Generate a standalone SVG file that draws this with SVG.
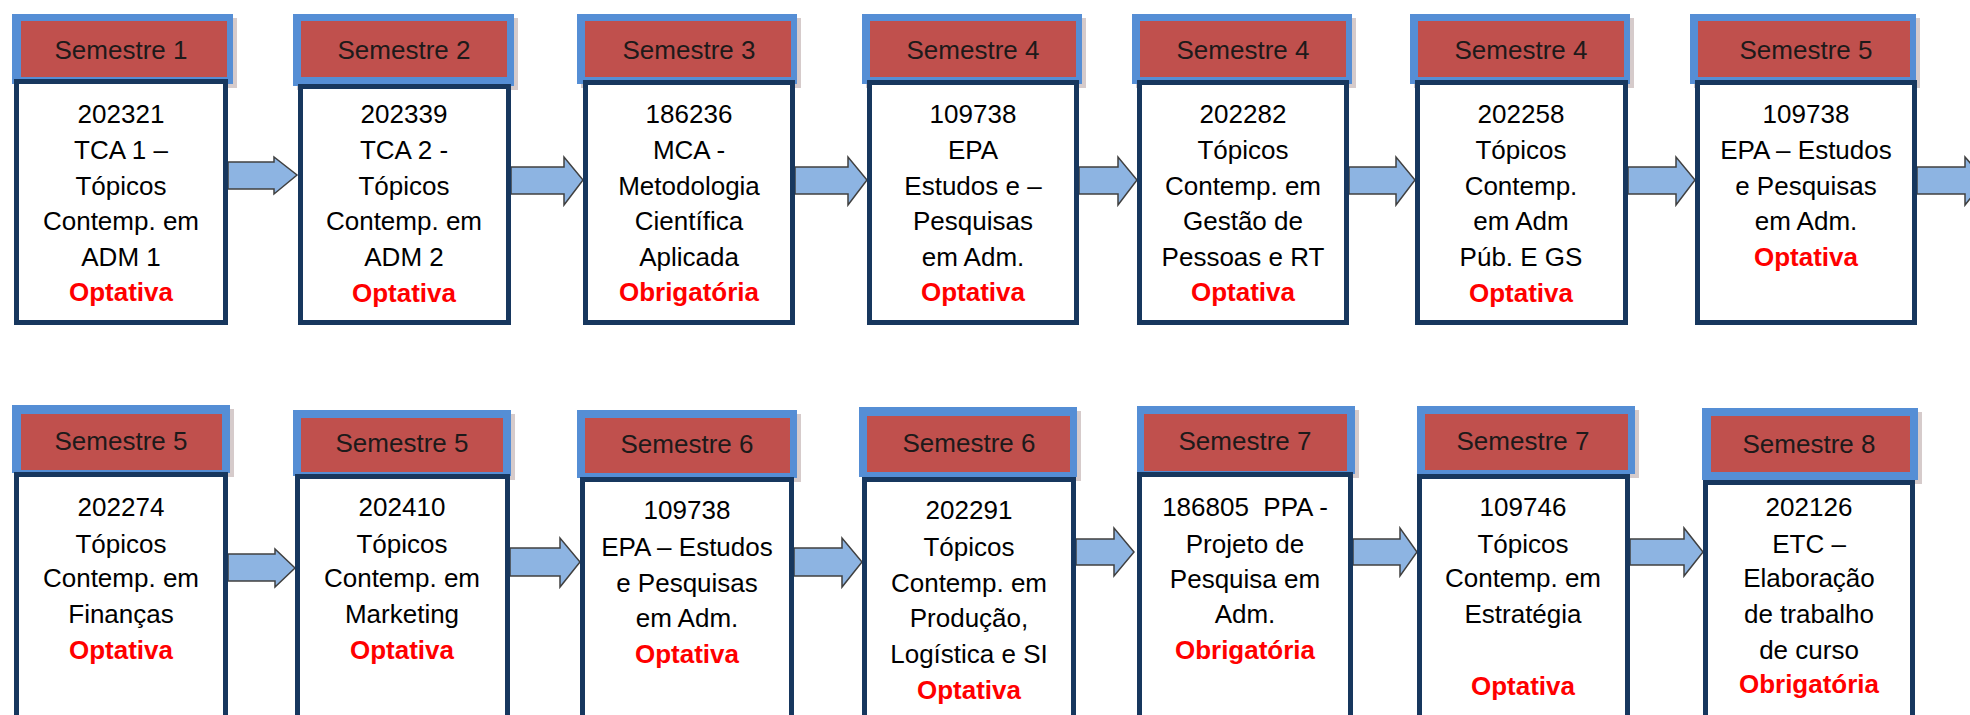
<svg xmlns="http://www.w3.org/2000/svg" width="1970" height="715" viewBox="0 0 1970 715">
<style>
.bg{fill:#ffffff}
.hs{fill:#8a6a6a;opacity:0.35}
.hb{fill:#558ED5}
.hr{fill:#C0504D}
.bd{fill:#ffffff;stroke:#17375E;stroke-width:5}
.ht{font-family:"Liberation Sans",Arial,sans-serif;font-size:26px;fill:#1e1a1a;text-anchor:middle}
.t{font-family:"Liberation Sans",Arial,sans-serif;font-size:26px;fill:#000;text-anchor:middle}
.r{font-family:"Liberation Sans",Arial,sans-serif;font-size:26px;font-weight:bold;fill:#FF0000;text-anchor:middle}
.ar{fill:#8DB4E2;stroke:#404040;stroke-width:1.5;stroke-linejoin:miter}
</style>
<rect class="bg" x="0" y="0" width="1970" height="715"/>

<g id="connectors">
  <polygon class="ar" points="228,162 274,162 274,157 297,175 274,194 274,189 228,189"/>
  <polygon class="ar" points="511,167 564,167 564,157 583,180 564,205 564,194 511,194"/>
  <polygon class="ar" points="795,167 848,167 848,157 867,180 848,205 848,194 795,194"/>
  <polygon class="ar" points="1079,167 1118,167 1118,157 1137,180 1118,205 1118,194 1079,194"/>
  <polygon class="ar" points="1349,167 1396,167 1396,157 1415,180 1396,205 1396,194 1349,194"/>
  <polygon class="ar" points="1628,167 1676,167 1676,157 1695,180 1676,205 1676,194 1628,194"/>
  <polygon class="ar" points="1917,167 1965,167 1965,157 1985,180 1965,205 1965,194 1917,194"/>
  <polygon class="ar" points="228,554 275,554 275,549 295,568 275,587 275,581 228,581"/>
  <polygon class="ar" points="510,548 560,548 560,538 580,562 560,587 560,576 510,576"/>
  <polygon class="ar" points="794,548 842,548 842,538 862,562 842,587 842,576 794,576"/>
  <polygon class="ar" points="1076,539 1114,539 1114,528 1134,552 1114,576 1114,565 1076,565"/>
  <polygon class="ar" points="1353,539 1400,539 1400,528 1417,552 1400,576 1400,565 1353,565"/>
  <polygon class="ar" points="1630,539 1684,539 1684,528 1703,552 1684,576 1684,565 1630,565"/>
</g>

<!-- Top row -->
<g id="node-t1">
  <rect class="hs" x="16" y="18" width="221" height="70"/>
  <rect class="hb" x="12" y="14" width="221" height="70"/>
  <rect class="hr" x="21" y="21" width="206" height="56"/>
  <rect class="bd" x="16.5" y="81.5" width="209" height="241"/>
  <text class="ht" x="121" y="59">Semestre 1</text>
  <text class="t" x="121" y="123">202321</text>
  <text class="t" x="121" y="159">TCA 1 –</text>
  <text class="t" x="121" y="195">Tópicos</text>
  <text class="t" x="121" y="230">Contemp. em</text>
  <text class="t" x="121" y="266">ADM 1</text>
  <text class="r" x="121" y="301">Optativa</text>
</g>
<g id="node-t2">
  <rect class="hs" x="297" y="18" width="221" height="72"/>
  <rect class="hb" x="293" y="14" width="221" height="72"/>
  <rect class="hr" x="301" y="21" width="206" height="56"/>
  <rect class="bd" x="300.5" y="86.5" width="208" height="236"/>
  <text class="ht" x="404" y="59">Semestre 2</text>
  <text class="t" x="404" y="123">202339</text>
  <text class="t" x="404" y="159">TCA 2 -</text>
  <text class="t" x="404" y="195">Tópicos</text>
  <text class="t" x="404" y="230">Contemp. em</text>
  <text class="t" x="404" y="266">ADM 2</text>
  <text class="r" x="404" y="302">Optativa</text>
</g>
<g id="node-t3">
  <rect class="hs" x="581" y="18" width="220" height="70"/>
  <rect class="hb" x="577" y="14" width="220" height="70"/>
  <rect class="hr" x="585" y="21" width="206" height="56"/>
  <rect class="bd" x="585.5" y="82.5" width="207" height="240"/>
  <text class="ht" x="689" y="59">Semestre 3</text>
  <text class="t" x="689" y="123">186236</text>
  <text class="t" x="689" y="159">MCA -</text>
  <text class="t" x="689" y="195">Metodologia</text>
  <text class="t" x="689" y="230">Científica</text>
  <text class="t" x="689" y="266">Aplicada</text>
  <text class="r" x="689" y="301">Obrigatória</text>
</g>
<g id="node-t4">
  <rect class="hs" x="866" y="18" width="220" height="70"/>
  <rect class="hb" x="862" y="14" width="220" height="70"/>
  <rect class="hr" x="870" y="21" width="206" height="56"/>
  <rect class="bd" x="869.5" y="82.5" width="207" height="240"/>
  <text class="ht" x="973" y="59">Semestre 4</text>
  <text class="t" x="973" y="123">109738</text>
  <text class="t" x="973" y="159">EPA</text>
  <text class="t" x="973" y="195">Estudos e –</text>
  <text class="t" x="973" y="230">Pesquisas</text>
  <text class="t" x="973" y="266">em Adm.</text>
  <text class="r" x="973" y="301">Optativa</text>
</g>
<g id="node-t5">
  <rect class="hs" x="1136" y="18" width="220" height="70"/>
  <rect class="hb" x="1132" y="14" width="220" height="70"/>
  <rect class="hr" x="1140" y="21" width="206" height="56"/>
  <rect class="bd" x="1139.5" y="82.5" width="207" height="240"/>
  <text class="ht" x="1243" y="59">Semestre 4</text>
  <text class="t" x="1243" y="123">202282</text>
  <text class="t" x="1243" y="159">Tópicos</text>
  <text class="t" x="1243" y="195">Contemp. em</text>
  <text class="t" x="1243" y="230">Gestão de</text>
  <text class="t" x="1243" y="266">Pessoas e RT</text>
  <text class="r" x="1243" y="301">Optativa</text>
</g>
<g id="node-t6">
  <rect class="hs" x="1414" y="18" width="220" height="70"/>
  <rect class="hb" x="1410" y="14" width="220" height="70"/>
  <rect class="hr" x="1418" y="21" width="206" height="56"/>
  <rect class="bd" x="1417.5" y="82.5" width="208" height="240"/>
  <text class="ht" x="1521" y="59">Semestre 4</text>
  <text class="t" x="1521" y="123">202258</text>
  <text class="t" x="1521" y="159">Tópicos</text>
  <text class="t" x="1521" y="195">Contemp.</text>
  <text class="t" x="1521" y="230">em Adm</text>
  <text class="t" x="1521" y="266">Púb. E GS</text>
  <text class="r" x="1521" y="302">Optativa</text>
</g>
<g id="node-t7">
  <rect class="hs" x="1694" y="18" width="226" height="70"/>
  <rect class="hb" x="1690" y="14" width="226" height="70"/>
  <rect class="hr" x="1698" y="21" width="212" height="56"/>
  <rect class="bd" x="1697.5" y="82.5" width="217" height="240"/>
  <text class="ht" x="1806" y="59">Semestre 5</text>
  <text class="t" x="1806" y="123">109738</text>
  <text class="t" x="1806" y="159">EPA – Estudos</text>
  <text class="t" x="1806" y="195">e Pesquisas</text>
  <text class="t" x="1806" y="230">em Adm.</text>
  <text class="r" x="1806" y="266">Optativa</text>
</g>

<!-- Bottom row -->
<g id="node-b1">
  <rect class="hs" x="16" y="409" width="218" height="68"/>
  <rect class="hb" x="12" y="405" width="218" height="68"/>
  <rect class="hr" x="21" y="414" width="201" height="56"/>
  <rect class="bd" x="16.5" y="474.5" width="209" height="260"/>
  <text class="ht" x="121" y="450">Semestre 5</text>
  <text class="t" x="121" y="516">202274</text>
  <text class="t" x="121" y="553">Tópicos</text>
  <text class="t" x="121" y="587">Contemp. em</text>
  <text class="t" x="121" y="623">Finanças</text>
  <text class="r" x="121" y="659">Optativa</text>
</g>
<g id="node-b2">
  <rect class="hs" x="297" y="414" width="218" height="66"/>
  <rect class="hb" x="293" y="410" width="218" height="66"/>
  <rect class="hr" x="301" y="418" width="202" height="54"/>
  <rect class="bd" x="297.5" y="476.5" width="210" height="260"/>
  <text class="ht" x="402" y="452">Semestre 5</text>
  <text class="t" x="402" y="516">202410</text>
  <text class="t" x="402" y="553">Tópicos</text>
  <text class="t" x="402" y="587">Contemp. em</text>
  <text class="t" x="402" y="623">Marketing</text>
  <text class="r" x="402" y="659">Optativa</text>
</g>
<g id="node-b3">
  <rect class="hs" x="581" y="414" width="220" height="68"/>
  <rect class="hb" x="577" y="410" width="220" height="68"/>
  <rect class="hr" x="585" y="418" width="205" height="55"/>
  <rect class="bd" x="582.5" y="479.5" width="209" height="260"/>
  <text class="ht" x="687" y="453">Semestre 6</text>
  <text class="t" x="687" y="519">109738</text>
  <text class="t" x="687" y="556">EPA – Estudos</text>
  <text class="t" x="687" y="592">e Pesquisas</text>
  <text class="t" x="687" y="627">em Adm.</text>
  <text class="r" x="687" y="663">Optativa</text>
</g>
<g id="node-b4">
  <rect class="hs" x="863" y="411" width="218" height="70"/>
  <rect class="hb" x="859" y="407" width="218" height="70"/>
  <rect class="hr" x="867" y="416" width="203" height="56"/>
  <rect class="bd" x="864.5" y="479.5" width="209" height="260"/>
  <text class="ht" x="969" y="452">Semestre 6</text>
  <text class="t" x="969" y="519">202291</text>
  <text class="t" x="969" y="556">Tópicos</text>
  <text class="t" x="969" y="592">Contemp. em</text>
  <text class="t" x="969" y="627">Produção,</text>
  <text class="t" x="969" y="663">Logística e SI</text>
  <text class="r" x="969" y="699">Optativa</text>
</g>
<g id="node-b5">
  <rect class="hs" x="1141" y="410" width="218" height="68"/>
  <rect class="hb" x="1137" y="406" width="218" height="68"/>
  <rect class="hr" x="1144" y="414" width="203" height="57"/>
  <rect class="bd" x="1139.5" y="474.5" width="211" height="260"/>
  <text class="ht" x="1245" y="450">Semestre 7</text>
  <text class="t" x="1245" y="516" xml:space="preserve">186805  PPA -</text>
  <text class="t" x="1245" y="553">Projeto de</text>
  <text class="t" x="1245" y="588">Pesquisa em</text>
  <text class="t" x="1245" y="623">Adm.</text>
  <text class="r" x="1245" y="659">Obrigatória</text>
</g>
<g id="node-b6">
  <rect class="hs" x="1421" y="410" width="218" height="68"/>
  <rect class="hb" x="1417" y="406" width="218" height="68"/>
  <rect class="hr" x="1425" y="414" width="203" height="56"/>
  <rect class="bd" x="1419.5" y="476.5" width="208" height="260"/>
  <text class="ht" x="1523" y="450">Semestre 7</text>
  <text class="t" x="1523" y="516">109746</text>
  <text class="t" x="1523" y="553">Tópicos</text>
  <text class="t" x="1523" y="587">Contemp. em</text>
  <text class="t" x="1523" y="623">Estratégia</text>
  <text class="r" x="1523" y="695">Optativa</text>
</g>
<g id="node-b7">
  <rect class="hs" x="1706" y="412" width="216" height="72"/>
  <rect class="hb" x="1702" y="408" width="216" height="72"/>
  <rect class="hr" x="1711" y="416" width="199" height="56"/>
  <rect class="bd" x="1705.5" y="482.5" width="207" height="260"/>
  <text class="ht" x="1809" y="453">Semestre 8</text>
  <text class="t" x="1809" y="516">202126</text>
  <text class="t" x="1809" y="553">ETC –</text>
  <text class="t" x="1809" y="587">Elaboração</text>
  <text class="t" x="1809" y="623">de trabalho</text>
  <text class="t" x="1809" y="659">de curso</text>
  <text class="r" x="1809" y="693">Obrigatória</text>
</g>
</svg>
